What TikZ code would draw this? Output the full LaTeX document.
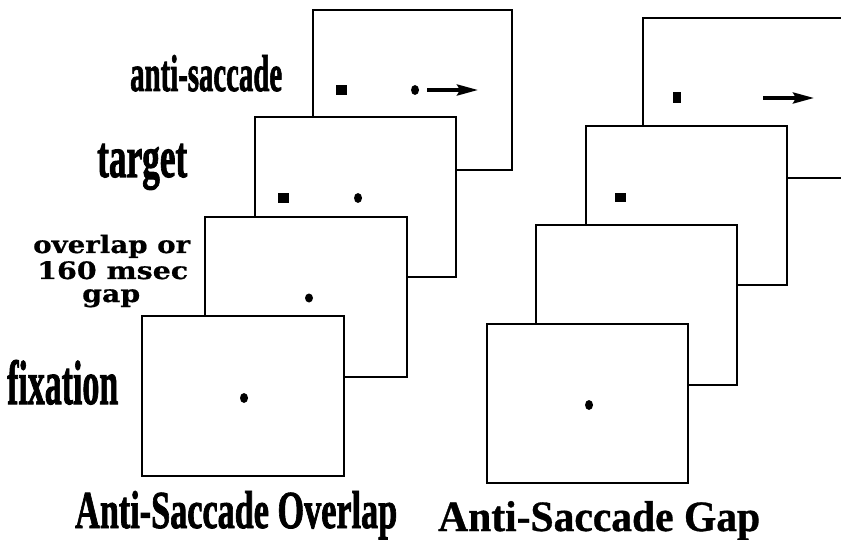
\documentclass[tikz,border=0pt]{standalone}
\usepackage{fontspec}
\setmainfont{Liberation Serif}
\newfontfamily\heavyfont{Liberation Serif}[BoldFeatures={FakeBold=1.8}]
\newfontfamily\midfont{Liberation Serif}[BoldFeatures={FakeBold=0.8}]
\newfontfamily\widefont{DejaVu Serif}[BoldFeatures={FakeBold=0.6}]
\usetikzlibrary{arrows.meta}
\tikzset{
  screen/.style={draw=black, fill=white, line width=1.9pt},
  lbl/.style={inner sep=0pt, anchor=base west},
  mvarrow/.style={line width=3.5pt, -{Stealth[length=21pt,width=11pt,inset=3pt]}},
}
\newcommand\hfit[2]{\resizebox{#1}{\height}{#2}}
\newcommand\wfit[3]{\resizebox{#1}{#2}{#3}}
\begin{document}
\begin{tikzpicture}[x=1pt,y=-1pt]
\clip (0,0) rectangle (841,540);
\fill[white] (0,0) rectangle (841,540);

% ---------- left stack (Anti-Saccade Overlap) ----------
\draw[screen] (313,10) rectangle (512,170);
\fill (336,85) rectangle (347,95);
\fill (415,90) ellipse [x radius=4pt, y radius=5pt];
\coordinate (la0) at (427,90);
\coordinate (la1) at (478,90);
\draw[mvarrow] (la0) -- (la1);

\draw[screen] (255,117) rectangle (456,277);
\fill (278,193) rectangle (289,203);
\fill (358,198) ellipse [x radius=4pt, y radius=5pt];

\draw[screen] (205,217) rectangle (407,377);
\fill (309,298) ellipse [x radius=4pt, y radius=4.5pt];

\draw[screen] (142,316) rectangle (344,476);
\fill (244,398) ellipse [x radius=4pt, y radius=5pt];

% ---------- right stack (Anti-Saccade Gap) ----------
\draw[screen] (643,18) rectangle (850,178);
\fill (673,92) rectangle (681,103);
\coordinate (ra0) at (763,98);
\coordinate (ra1) at (814,98);
\draw[mvarrow] (ra0) -- (ra1);

\draw[screen] (586,126) rectangle (787,285);
\fill (615,193) rectangle (626,202);

\draw[screen] (536,225) rectangle (737,385);

\draw[screen] (487,324) rectangle (688,483);
\fill (589,405) ellipse [x radius=4pt, y radius=5pt];

% ---------- labels ----------
\node[lbl] (lantisac) at (130,91) {\wfit{152pt}{36pt}{\heavyfont\bfseries\fontsize{55}{55}\selectfont anti-saccade}};
\node[lbl] (ltarget) at (97,177) {\wfit{90pt}{33pt}{\heavyfont\bfseries\fontsize{55}{55}\selectfont target}};
\node[lbl] (lgap1) at (33,253) {\hfit{157pt}{\widefont\bfseries\fontsize{24}{24}\selectfont overlap or}};
\node[lbl] (lgap2) at (37,279) {\hfit{151pt}{\widefont\bfseries\fontsize{24}{24}\selectfont 160 msec}};
\node[lbl] (lgap3) at (82,302) {\hfit{58pt}{\widefont\bfseries\fontsize{24}{24}\selectfont gap}};
\node[lbl] (lfix) at (7,404) {\wfit{111pt}{44pt}{\heavyfont\bfseries\fontsize{64}{64}\selectfont fixation}};
\node[lbl] (ltitle1) at (75,528) {\wfit{322pt}{37pt}{\heavyfont\bfseries\fontsize{56}{56}\selectfont Anti-Saccade Overlap}};
\node[lbl] (ltitle2) at (438,531) {\wfit{322pt}{30pt}{\midfont\bfseries\fontsize{45}{45}\selectfont Anti-Saccade Gap}};
\end{tikzpicture}
\end{document}
